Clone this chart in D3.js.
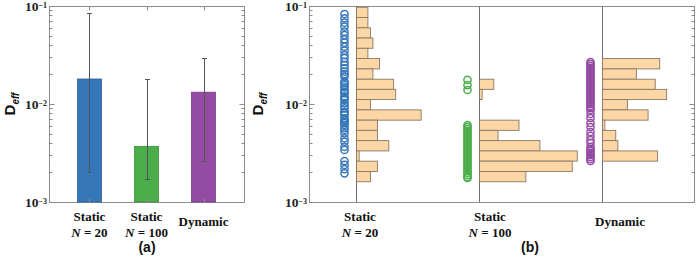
<!DOCTYPE html>
<html>
<head>
<meta charset="utf-8">
<script src="https://cdn.jsdelivr.net/npm/d3@7"></script>
<style>
body { margin: 0; background: #fff; }
</style>
</head>
<body>
<svg id="chart" width="700" height="257"></svg>
<script>

// ---- data ----
var groups = ["Static N=20", "Static N=100", "Dynamic"];
var groupColors = ["#3677ba", "#4cae4a", "#944ba3"];
var meanVal = [0.018, 0.0037, 0.0132];
var errHigh = [0.085, 0.018, 0.0295];
var errLow = [0.0020, 0.0017, 0.0026];
var yTicks = [1e-3, 1e-2, 1e-1];
var tickExp = ["\u22123", "\u22122", "\u22121"];

// histogram bin edges (D_eff), 17 bins from top to bottom
var binEdges = [0.0970, 0.0763, 0.0599, 0.0471, 0.0370, 0.0291, 0.0228, 0.0179, 0.0141,
  0.0111, 0.00871, 0.00684, 0.00538, 0.00423, 0.00332, 0.00261, 0.00205, 0.00161];
var histStatic20 = [4.3, 4.3, 5.3, 6.2, 4.3, 8.7, 6.2, 14, 14.8, 5.3, 24.4, 7.9, 7.9, 12.2, 1, 7.9, 5.3];
var histStatic100 = [0, 0, 0, 0, 0, 0, 0, 5.4, 1, 0, 0, 14.9, 7, 22.8, 36.9, 35, 17.5];
var histDynamic = [0, 0, 0, 0, 0, 21.6, 12.8, 19.9, 24.2, 9.4, 17.2, 0.9, 5, 5.8, 20.8, 0, 0];

var ptsStatic20 = [0.0828, 0.0749, 0.0676, 0.0615, 0.0547, 0.0506, 0.0457, 0.0422, 0.0384, 0.0350,
  0.0316, 0.0294, 0.0270, 0.0250, 0.0231, 0.0214, 0.0202, 0.0190, 0.0169, 0.0164, 0.0156, 0.0148,
  0.0139, 0.0132, 0.0129, 0.0119, 0.0115, 0.0110, 0.0102, 0.00955, 0.00903, 0.00834, 0.00809,
  0.00772, 0.00714, 0.00687, 0.00659, 0.00640, 0.00610, 0.00569, 0.00543, 0.00502, 0.00447,
  0.00412, 0.00366, 0.00340, 0.00262, 0.00239, 0.00216, 0.00196];
var ptsStatic100 = [0.0176, 0.0156, 0.0139, 0.00610, 0.00582, 0.00556, 0.00530, 0.00506, 0.00483,
  0.00461, 0.00439, 0.00419, 0.00400, 0.00382, 0.00364, 0.00347, 0.00331, 0.00316, 0.00302,
  0.00288, 0.00275, 0.00262, 0.00250, 0.00239, 0.00228, 0.00217, 0.00207, 0.00198, 0.00189,
  0.00180, 0.00176];
var ptsDynamic = [0.0268, 0.0256, 0.0244, 0.0233, 0.0222, 0.0212, 0.0202, 0.0193, 0.0184, 0.0176,
  0.0168, 0.0160, 0.0153, 0.0146, 0.0139, 0.0133, 0.0126, 0.0121, 0.0115, 0.0110, 0.0105, 0.0100,
  0.00954, 0.00910, 0.00869, 0.00791, 0.00720, 0.00640, 0.00582, 0.00518, 0.00472, 0.00429,
  0.00400, 0.00364, 0.00347, 0.00331, 0.00316, 0.00302, 0.00288, 0.00275, 0.00262];

var histData = [histStatic20, histStatic100, histDynamic];
var ptsData = [ptsStatic20, ptsStatic100, ptsDynamic];

// ---- layout ----
var plotTop = 6, plotBottom = 202;
var axisCol = "#8c8c8c";
var serif = "'Liberation Serif', 'Times New Roman', serif";
var sans = "'Liberation Sans', Arial, sans-serif";

var svg = d3.select("#chart");

var y = d3.scaleLog().domain([1e-3, 1e-1]).range([plotBottom, plotTop]);

function drawFrame(x0, x1) {
  var g = svg.append("g");
  g.append("rect")
    .attr("x", x0 + 0.5).attr("y", plotTop + 0.5)
    .attr("width", x1 - x0).attr("height", plotBottom - plotTop)
    .attr("fill", "none").attr("stroke", axisCol).attr("stroke-width", 1);
  var ticks = y.ticks();
  ticks.forEach(function (t) {
    var major = Math.abs(Math.log10(t) - Math.round(Math.log10(t))) < 1e-6;
    var len = major ? 5 : 3;
    var yy = Math.round(y(t)) + 0.5;
    g.append("line").attr("x1", x0 + 0.5).attr("x2", x0 + 0.5 + len)
      .attr("y1", yy).attr("y2", yy).attr("stroke", axisCol);
    g.append("line").attr("x1", x1 + 0.5).attr("x2", x1 + 0.5 - len)
      .attr("y1", yy).attr("y2", yy).attr("stroke", axisCol);
  });
  yTicks.forEach(function (t, i) {
    var txt = g.append("text")
      .attr("x", x0 - 2).attr("y", y(t) + 5)
      .attr("text-anchor", "end")
      .style("font-family", serif).style("font-weight", "bold")
      .style("font-size", "13.5px").attr("fill", "#222");
    txt.append("tspan").text("10");
    txt.append("tspan").attr("dy", -3.5).style("font-size", "8px").text(tickExp[i]);
  });
  return g;
}

function yLabel(xx) {
  var t = svg.append("text")
    .attr("transform", "translate(" + xx + "," + 104 + ") rotate(-90)")
    .attr("text-anchor", "middle")
    .style("font-family", sans).style("font-weight", "bold")
    .style("font-size", "15px").attr("fill", "#111");
  t.append("tspan").text("D");
  t.append("tspan").attr("dy", 4).style("font-size", "10px").style("font-style", "italic").text("eff");
}

function catLabel(cx, i) {
  var g = svg.append("g").style("font-family", serif).style("font-weight", "bold")
    .style("font-size", "13px").attr("fill", "#111");
  if (i === 2) {
    g.append("text").attr("x", cx).attr("y", 226).attr("text-anchor", "middle").text("Dynamic");
  } else {
    g.append("text").attr("x", cx).attr("y", 221).attr("text-anchor", "middle").text("Static");
    var t = g.append("text").attr("x", cx).attr("y", 237).attr("text-anchor", "middle");
    t.append("tspan").style("font-style", "italic").text("N");
    t.append("tspan").text(" = " + (i === 0 ? "20" : "100"));
  }
}

// ---- panel (a) ----
var ax0 = 49, ax1 = 244;
var xa = d3.scaleBand().domain(groups).range([ax0, ax1]).paddingInner(0.58).paddingOuter(0.5);
drawFrame(ax0, ax1);

var barsA = svg.append("g");
groups.forEach(function (gname, i) {
  var bx = xa(gname);
  barsA.append("rect")
    .attr("x", bx).attr("y", y(meanVal[i]))
    .attr("width", xa.bandwidth()).attr("height", plotBottom - y(meanVal[i]))
    .attr("fill", groupColors[i])
    .attr("stroke", d3.color(groupColors[i]).darker(0.6)).attr("stroke-width", 0.8);
  var cx = Math.round(bx + xa.bandwidth() / 2) + 0.5;
  barsA.append("line").attr("x1", cx).attr("x2", cx)
    .attr("y1", y(errHigh[i])).attr("y2", y(errLow[i]))
    .attr("stroke", "#555").attr("stroke-width", 1);
  [errHigh[i], errLow[i]].forEach(function (v) {
    barsA.append("line").attr("x1", cx - 2.5).attr("x2", cx + 2.5)
      .attr("y1", Math.round(y(v)) + 0.5).attr("y2", Math.round(y(v)) + 0.5)
      .attr("stroke", "#555").attr("stroke-width", 1);
  });
  // category ticks on top and bottom
  barsA.append("line").attr("x1", cx).attr("x2", cx).attr("y1", plotTop + 0.5).attr("y2", plotTop + 4.5).attr("stroke", axisCol);
  barsA.append("line").attr("x1", cx).attr("x2", cx).attr("y1", plotBottom + 0.5).attr("y2", plotBottom - 3.5).attr("stroke", axisCol);
  catLabel(bx + xa.bandwidth() / 2, i);
});
yLabel(15);

svg.append("text").attr("x", 147).attr("y", 252).attr("text-anchor", "middle")
  .style("font-family", sans).style("font-weight", "bold").style("font-size", "14px")
  .attr("fill", "#111").text("(a)");

// ---- panel (b) ----
var bx0 = 309, bx1 = 694;
drawFrame(bx0, bx1);
var xBase = d3.scalePoint().domain(groups).range([356, 602]);
var xLab = d3.scalePoint().domain(groups).range([360, 620]);
var hx = d3.scaleLinear().domain([0, 40]).range([0, 106]);

var panelB = svg.append("g");
groups.forEach(function (gname, i) {
  var base = Math.round(xBase(gname)) + 0.5;
  panelB.append("line").attr("x1", base).attr("x2", base)
    .attr("y1", plotTop).attr("y2", plotBottom).attr("stroke", "#6e6e6e").attr("stroke-width", 1);

  histData[i].forEach(function (c, k) {
    if (c <= 0) return;
    var yt = y(binEdges[k]), yb = y(binEdges[k + 1]);
    panelB.append("rect")
      .attr("x", base).attr("y", yt)
      .attr("width", hx(c)).attr("height", yb - yt)
      .attr("fill", "#fcd6a4").attr("stroke", "#8a7866").attr("stroke-width", 0.9);
  });

  panelB.append("g").selectAll("circle")
    .data(ptsData[i])
    .enter()
    .append("circle")
    .attr("cx", base - 12)
    .attr("cy", function (d) { return y(d); })
    .attr("r", 3.6)
    .attr("fill", "none")
    .attr("stroke", groupColors[i])
    .attr("stroke-width", 1.5);

  catLabel(xLab(gname), i);
});
yLabel(263);

svg.append("text").attr("x", 530).attr("y", 252).attr("text-anchor", "middle")
  .style("font-family", sans).style("font-weight", "bold").style("font-size", "14px")
  .attr("fill", "#111").text("(b)");

</script>
</body>
</html>
